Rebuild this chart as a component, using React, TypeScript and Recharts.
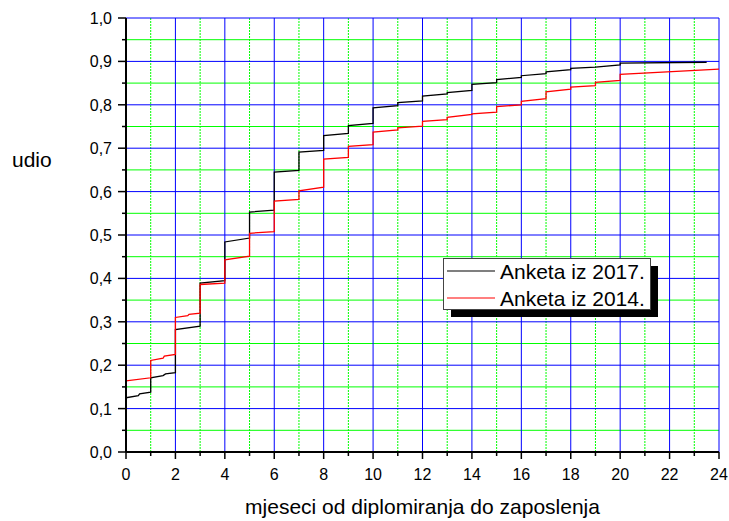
import { CartesianGrid, Label, Legend, Line, LineChart, XAxis, YAxis } from "recharts";

// Anketa iz 2017. (black)
const months2017 = [
  0, 0.5, 0.55, 1, 1, 1.5, 1.6, 2, 2, 3, 3, 4, 4, 5, 5, 6, 6, 7, 7, 8, 8, 9, 9, 10, 10, 11, 11, 12, 12, 13, 13, 14,
  14, 15, 15, 16, 16, 17, 17, 18, 18, 19, 20, 20, 23.5,
];
const share2017 = [
  0.125, 0.13, 0.134, 0.138, 0.171, 0.176, 0.18, 0.183, 0.282, 0.29, 0.389, 0.395, 0.484, 0.493, 0.553, 0.557, 0.645,
  0.649, 0.691, 0.695, 0.729, 0.734, 0.752, 0.757, 0.793, 0.798, 0.805, 0.809, 0.82, 0.825, 0.828, 0.833, 0.847, 0.851,
  0.858, 0.863, 0.867, 0.872, 0.876, 0.881, 0.884, 0.887, 0.892, 0.896, 0.898,
];

// Anketa iz 2014. (red)
const months2014 = [
  0, 0, 1, 1, 1.5, 1.55, 2, 2, 2.5, 2.55, 3, 3, 4, 4, 5, 5, 6, 6, 7, 7, 8, 8, 9, 9, 10, 10, 11, 11, 12, 12, 13, 13, 14,
  14, 15, 15, 16, 16, 17, 17, 18, 18, 19, 19, 20, 20, 24,
];
const share2014 = [
  0, 0.164, 0.171, 0.211, 0.216, 0.221, 0.225, 0.31, 0.314, 0.317, 0.32, 0.386, 0.389, 0.443, 0.451, 0.504, 0.508,
  0.578, 0.582, 0.602, 0.61, 0.675, 0.679, 0.704, 0.708, 0.737, 0.742, 0.747, 0.751, 0.762, 0.766, 0.771, 0.778, 0.779,
  0.783, 0.796, 0.8, 0.808, 0.814, 0.83, 0.836, 0.841, 0.844, 0.852, 0.856, 0.87, 0.882,
];

const legendOrder = ["Anketa iz 2017.", "Anketa iz 2014."];

const xTicks = [0, 1, 2, 3, 4, 5, 6, 7, 8, 9, 10, 11, 12, 13, 14, 15, 16, 17, 18, 19, 20, 21, 22, 23, 24];
const yTicks = [
  0, 0.05, 0.1, 0.15, 0.2, 0.25, 0.3, 0.35, 0.4, 0.45, 0.5, 0.55, 0.6, 0.65, 0.7, 0.75, 0.8, 0.85, 0.9, 0.95, 1,
];
const blueX = [0, 2, 4, 6, 8, 10, 12, 14, 16, 18, 20, 22, 24];
const greenX = [1, 3, 5, 7, 9, 11, 13, 15, 17, 19, 21, 23];
const blueY = [0, 0.1, 0.2, 0.3, 0.4, 0.5, 0.6, 0.7, 0.8, 0.9, 1];
const greenY = [0.05, 0.15, 0.25, 0.35, 0.45, 0.55, 0.65, 0.75, 0.85, 0.95];

const series2017 = months2017.map((x, i) => ({ x, y: share2017[i] }));
const series2014 = months2014.map((x, i) => ({ x, y: share2014[i] }));

const FONT = '"Liberation Sans", Arial, sans-serif';

function XTick(props: any) {
  const { x, y, payload } = props;
  const major = payload.value % 2 === 0;
  return (
    <g>
      <line x1={x} y1={y} x2={x} y2={y + (major ? 7 : 4)} stroke="#000" strokeWidth={1.5} />
      {major && (
        <text x={x} y={y + 28} textAnchor="middle" fontSize={16} fontFamily={FONT} fill="#000">
          {payload.value}
        </text>
      )}
    </g>
  );
}

function YTick(props: any) {
  const { x, y, payload } = props;
  const major = Math.round(payload.value * 100) % 10 === 0;
  return (
    <g>
      <line x1={x - (major ? 8 : 4)} y1={y} x2={x} y2={y} stroke="#000" strokeWidth={1.5} />
      {major && (
        <text x={x - 14} y={y + 6} textAnchor="end" fontSize={16} fontFamily={FONT} fill="#000">
          {payload.value.toFixed(1).replace(".", ",")}
        </text>
      )}
    </g>
  );
}

function RightTick(props: any) {
  const { x, y } = props;
  return <line x1={x - 4} y1={y} x2={x} y2={y} stroke="#000" strokeWidth={1.5} />;
}

function LegendBox({ payload }: any) {
  const rows = [...(payload ?? [])].sort(
    (a: any, b: any) => legendOrder.indexOf(a.value) - legendOrder.indexOf(b.value),
  );
  return (
    <svg width={218} height={62} style={{ display: "block" }}>
      <rect x={8} y={8} width={207} height={51} fill="#000" />
      <rect x={0.5} y={0.5} width={207} height={51} fill="#fff" stroke="#444" strokeWidth={1} />
      {rows.map((r: any, i: number) => (
        <g key={r.value}>
          <line x1={4} x2={52} y1={13 + i * 27} y2={13 + i * 27} stroke={r.color} strokeWidth={1.2} />
          <text x={57} y={21 + i * 27} fontSize={21} fontFamily={FONT} fill="#000">
            {r.value}
          </text>
        </g>
      ))}
    </svg>
  );
}

export default function App() {
  return (
    <div style={{ position: "absolute", left: 0, top: 0, background: "#fff" }}>
      <LineChart width={729} height={521} margin={{ top: 18, right: 10, left: 0, bottom: 0 }}>
        <CartesianGrid vertical={false} horizontalValues={greenY} stroke="#00ff00" strokeWidth={1} />
        <CartesianGrid horizontal={false} verticalValues={greenX} stroke="#00ff00" strokeWidth={1} strokeDasharray="2 1" />
        <CartesianGrid horizontalValues={blueY} verticalValues={blueX} stroke="#0000ff" strokeWidth={1} />
        <XAxis
          dataKey="x"
          type="number"
          domain={[0, 24]}
          allowDataOverflow
          ticks={xTicks}
          interval={0}
          tick={XTick}
          tickSize={0}
          tickMargin={0}
          tickLine={false}
          height={69}
          axisLine={{ stroke: "#000", strokeWidth: 2 }}
        >
          <Label
            content={({ viewBox }: any) => (
              <text
                x={viewBox.x + viewBox.width / 2}
                y={viewBox.y + 62}
                textAnchor="middle"
                fontSize={21}
                fontFamily={FONT}
                fill="#000"
              >
                mjeseci od diplomiranja do zaposlenja
              </text>
            )}
          />
        </XAxis>
        <XAxis
          xAxisId="top"
          orientation="top"
          type="number"
          domain={[0, 24]}
          height={0}
          tick={false}
          tickLine={false}
          axisLine={{ stroke: "#000", strokeWidth: 2 }}
        />
        <YAxis
          type="number"
          domain={[0, 1]}
          allowDataOverflow
          ticks={yTicks}
          interval={0}
          tick={YTick}
          tickSize={0}
          tickMargin={0}
          tickLine={false}
          width={126}
          axisLine={{ stroke: "#000", strokeWidth: 2 }}
        >
          <Label
            content={() => (
              <text x={12} y={167} fontSize={21} fontFamily={FONT} fill="#000">
                udio
              </text>
            )}
          />
        </YAxis>
        <YAxis
          yAxisId="right"
          orientation="right"
          type="number"
          domain={[0, 1]}
          ticks={yTicks}
          interval={0}
          tick={RightTick}
          tickSize={0}
          tickMargin={0}
          tickLine={false}
          width={0}
          axisLine={{ stroke: "#000", strokeWidth: 2 }}
        />
        <Legend
          layout="horizontal"
          verticalAlign="middle"
          align="center"
          content={LegendBox}
          wrapperStyle={{ left: 443, top: 258, width: 218, height: 62 }}
        />
        <Line
          data={series2017}
          dataKey="y"
          name="Anketa iz 2017."
          type="linear"
          stroke="#000000"
          strokeWidth={1.3}
          dot={false}
          activeDot={false}
          isAnimationActive={false}
        />
        <Line
          data={series2014}
          dataKey="y"
          name="Anketa iz 2014."
          type="linear"
          stroke="#ff0000"
          strokeWidth={1.3}
          dot={false}
          activeDot={false}
          isAnimationActive={false}
        />
      </LineChart>
    </div>
  );
}
